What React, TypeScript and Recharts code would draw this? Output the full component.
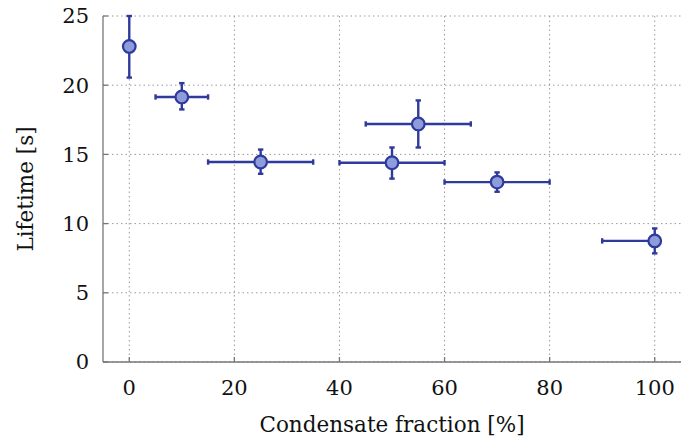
import React from "react";
import {
  ScatterChart,
  Scatter,
  XAxis,
  YAxis,
  CartesianGrid,
  ErrorBar,
} from "recharts";

const fraction = [0, 10, 25, 50, 55, 70, 100];
const lifetime = [22.8, 19.15, 14.45, 14.4, 17.2, 13.0, 8.75];
const lifetimeErr: [number, number][] = [
  [2.25, 2.2],
  [0.9, 1.0],
  [0.85, 0.9],
  [1.15, 1.1],
  [1.7, 1.7],
  [0.7, 0.7],
  [0.9, 0.9],
];
const fractionErr: [number, number][] = [
  [0, 0],
  [5, 5],
  [10, 10],
  [10, 10],
  [10, 10],
  [10, 10],
  [10, 0],
];
const xTicks = [0, 20, 40, 60, 80, 100];
const yTicks = [0, 5, 10, 15, 20, 25];

const data = fraction.map((x, i) => ({
  x,
  y: lifetime[i],
  yErr: lifetimeErr[i],
  xErr: fractionErr[i],
}));

const FONT = "DejaVu Serif";
const DARK = "#2e3a9c";
const FILL = "#8e9cdb";
const FRAME = "#777777";

const Dot = (props: any) => {
  const { cx, cy } = props;
  return <circle cx={cx} cy={cy} r={6.3} fill={FILL} stroke={DARK} strokeWidth={2.2} />;
};

export default function App() {
  return (
    <div style={{ position: "absolute", left: 0, top: 0, background: "#fff", fontFamily: FONT }}>
      <ScatterChart
        width={690}
        height={439}
        margin={{ top: 16, right: 9, bottom: 0, left: 0 }}
        style={{ fontFamily: FONT }}
      >
        <CartesianGrid
          stroke="#9a9a9a"
          strokeDasharray="1.5 3"
          horizontalValues={yTicks}
          verticalValues={xTicks}
        />
        <XAxis
          type="number"
          dataKey="x"
          domain={[-5, 105]}
          ticks={xTicks}
          height={77}
          axisLine={{ stroke: FRAME, strokeWidth: 1.3 }}
          tickLine={{ stroke: FRAME, strokeWidth: 1.3 }}
          tickSize={-5}
          tickMargin={23}
          tick={{ fill: "#111", fontSize: 21, fontFamily: FONT }}
          label={{
            value: "Condensate fraction [%]",
            position: "insideBottom",
            offset: 7,
            style: { fill: "#111", fontSize: 21.5, fontFamily: FONT },
          }}
        />
        <XAxis
          xAxisId="top"
          orientation="top"
          type="number"
          dataKey="x"
          domain={[-5, 105]}
          ticks={xTicks}
          height={0}
          axisLine={{ stroke: FRAME, strokeWidth: 1.3 }}
          tickLine={false}
          tick={false}
        />
        <YAxis
          type="number"
          dataKey="y"
          domain={[0, 25]}
          ticks={yTicks}
          width={103}
          axisLine={{ stroke: FRAME, strokeWidth: 1.3 }}
          tickLine={{ stroke: FRAME, strokeWidth: 1.3 }}
          tickSize={-5}
          tickMargin={19}
          tick={{ fill: "#111", fontSize: 21, fontFamily: FONT }}
          label={{
            value: "Lifetime [s]",
            angle: -90,
            position: "insideLeft",
            offset: 25,
            style: { fill: "#111", fontSize: 21.5, fontFamily: FONT, textAnchor: "middle" },
          }}
        />
        <YAxis
          yAxisId="right"
          orientation="right"
          type="number"
          domain={[0, 25]}
          width={0}
          axisLine={{ stroke: FRAME, strokeWidth: 1.3 }}
          tickLine={false}
          tick={false}
        />
        <Scatter data={data} shape={<Dot />} isAnimationActive={false}>
          <ErrorBar
            dataKey="yErr"
            direction="y"
            width={2.7}
            stroke={DARK}
            strokeWidth={2.4}
            isAnimationActive={false}
          />
          <ErrorBar
            dataKey="xErr"
            direction="x"
            width={2.7}
            stroke={DARK}
            strokeWidth={2.4}
            isAnimationActive={false}
          />
        </Scatter>
      </ScatterChart>
    </div>
  );
}
